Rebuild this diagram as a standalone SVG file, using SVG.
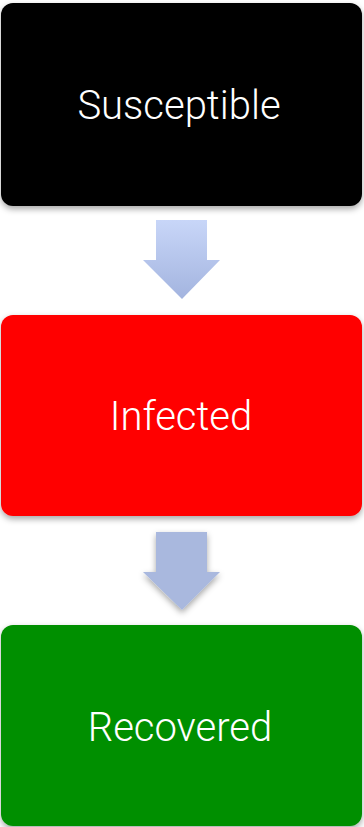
<svg xmlns="http://www.w3.org/2000/svg" width="364" height="827" viewBox="0 0 364 827">
<defs>
<filter id="sh" x="-10%" y="-10%" width="120%" height="130%">
<feDropShadow dx="0" dy="3" stdDeviation="3" flood-color="#000" flood-opacity="0.35"/>
</filter>
<linearGradient id="g1" x1="0" y1="0" x2="0" y2="1">
<stop offset="0" stop-color="#c8d6f8"/>
<stop offset="1" stop-color="#a3b4df"/>
</linearGradient>
</defs>
<style>
.box{filter:url(#sh)}
.lbl{font-family:Roboto,"Open Sans","Liberation Sans",sans-serif;font-weight:300;font-size:40px;fill:#fff;text-anchor:middle}
</style>
<rect width="364" height="827" fill="#fff"/>
<g id="connectors">
<polygon points="156,220 207,220 207,260 220,260 182,299 143,260 156,260" fill="url(#g1)"/>
<polygon points="156,532 207,532 207,572 220,572 182,610 143,572 156,572" fill="#a9b8de" filter="url(#sh)"/>
</g>
<g id="susceptible">
<rect class="box" x="1" y="3" width="361" height="203" rx="12" fill="#000"/>
<text class="lbl" x="179" y="119">Susceptible</text>
</g>
<g id="infected">
<rect class="box" x="1" y="315" width="361" height="201" rx="12" fill="#ff0000"/>
<text class="lbl" x="181" y="430">Infected</text>
</g>
<g id="recovered">
<rect class="box" x="1" y="625" width="361" height="201" rx="12" fill="#008f00"/>
<text class="lbl" x="180" y="741">Recovered</text>
</g>
</svg>
